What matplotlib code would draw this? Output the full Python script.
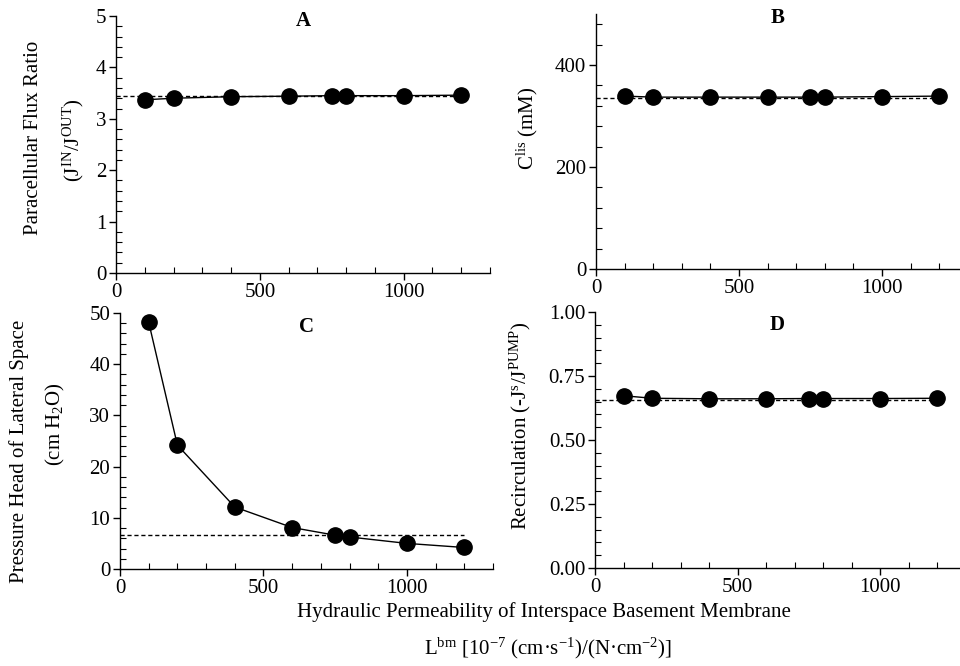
import matplotlib
matplotlib.use("Agg")
import matplotlib.pyplot as plt
from matplotlib.ticker import MultipleLocator, FormatStrFormatter

plt.rcParams['font.family'] = ['Liberation Serif', 'DejaVu Serif']
plt.rcParams['mathtext.fontset'] = 'custom'
plt.rcParams['mathtext.rm'] = 'Liberation Serif'
plt.rcParams['mathtext.it'] = 'Liberation Serif:italic'
plt.rcParams['mathtext.bf'] = 'Liberation Serif:bold'

# Data
lbm = [100, 200, 400, 600, 750, 800, 1000, 1200]
flux_ratio = [3.37, 3.40, 3.43, 3.44, 3.45, 3.45, 3.45, 3.46]
clis = [339, 337, 337, 337, 337, 337, 338, 339]
pressure_head = [48.2, 24.2, 12.1, 8.1, 6.6, 6.25, 5.0, 4.2]
recirculation = [0.673, 0.663, 0.661, 0.661, 0.662, 0.662, 0.662, 0.663]

ref_x = [0, 1200]
ref_flux = 3.44
ref_clis = 336
ref_pressure = 6.55
ref_recirc = 0.658

panel_labels = ['A', 'B', 'C', 'D']

fig = plt.figure(figsize=(9.6, 6.66), dpi=100)

W, H = 960, 666
def ax_at(left, top, right, bottom):
    return fig.add_axes([left / W, (H - bottom) / H, (right - left) / W, (bottom - top) / H])

def ftext(x, y, s, **kw):
    fig.text(x / W, 1 - y / H, s, ha='center', va='center', fontsize=15, **kw)

axA = ax_at(116, 16, 490, 273)
axB = ax_at(596, 14, 960, 269)
axC = ax_at(120, 313, 493, 569)
axD = ax_at(595, 312, 960, 568)

def style(ax, ylim, ymaj, ymin, xmax, label, label_y):
    ax.set_xlim(0, xmax)
    ax.set_ylim(*ylim)
    for s in ['top', 'right']:
        ax.spines[s].set_visible(False)
    for s in ['left', 'bottom']:
        ax.spines[s].set_linewidth(1.0)
    ax.xaxis.set_major_locator(MultipleLocator(500))
    ax.xaxis.set_minor_locator(MultipleLocator(100))
    ax.yaxis.set_major_locator(MultipleLocator(ymaj))
    ax.yaxis.set_minor_locator(MultipleLocator(ymin))
    ax.tick_params(which='major', direction='out', length=5, width=1, labelsize=15, pad=2)
    ax.tick_params(which='minor', direction='in', length=4, width=0.8)
    ax.text(0.5, label_y, label, transform=ax.transAxes, ha='center', va='center',
            fontsize=15, fontweight='bold')

def plot_series(ax, y, ref):
    ax.plot(ref_x, [ref, ref], color='black', linestyle=(0, (3, 2)), linewidth=1.0, zorder=2)
    ax.plot(lbm, y, color='black', linewidth=1.0, marker='o', markersize=11, zorder=3, clip_on=False)

plot_series(axA, flux_ratio, ref_flux)
style(axA, (0, 5), 1, 0.2, 1300, panel_labels[0], 0.98)

plot_series(axB, clis, ref_clis)
style(axB, (0, 500), 200, 40, 1273, panel_labels[1], 0.985)

plot_series(axC, pressure_head, ref_pressure)
style(axC, (0, 50), 10, 2, 1300, panel_labels[2], 0.945)

plot_series(axD, recirculation, ref_recirc)
style(axD, (0, 1.0), 0.25, 0.05, 1280, panel_labels[3], 0.95)
axD.yaxis.set_major_formatter(FormatStrFormatter('%.2f'))

# y-axis labels
ftext(34, 138, 'Paracellular Flux Ratio', rotation=90)
ftext(73, 140, r'$\mathrm{(J^{IN}/J^{OUT})}$', rotation=90)
ftext(527, 128, r'$\mathrm{C^{lis}}$ (mM)', rotation=90)
ftext(19, 451, 'Pressure Head of Lateral Space', rotation=90)
ftext(55, 424, r'(cm H$_2$O)', rotation=90)
ftext(520, 426, r'Recirculation (-$\mathrm{J^{s}/J^{PUMP}}$)', rotation=90)

# x-axis label
ftext(544, 612, 'Hydraulic Permeability of Interspace Basement Membrane')
ftext(548, 648, r'$\mathrm{L^{bm}}$ [10$^{-7}$ (cm·s$^{-1}$)/(N·cm$^{-2}$)]')

fig.savefig('out.png', dpi=100)
